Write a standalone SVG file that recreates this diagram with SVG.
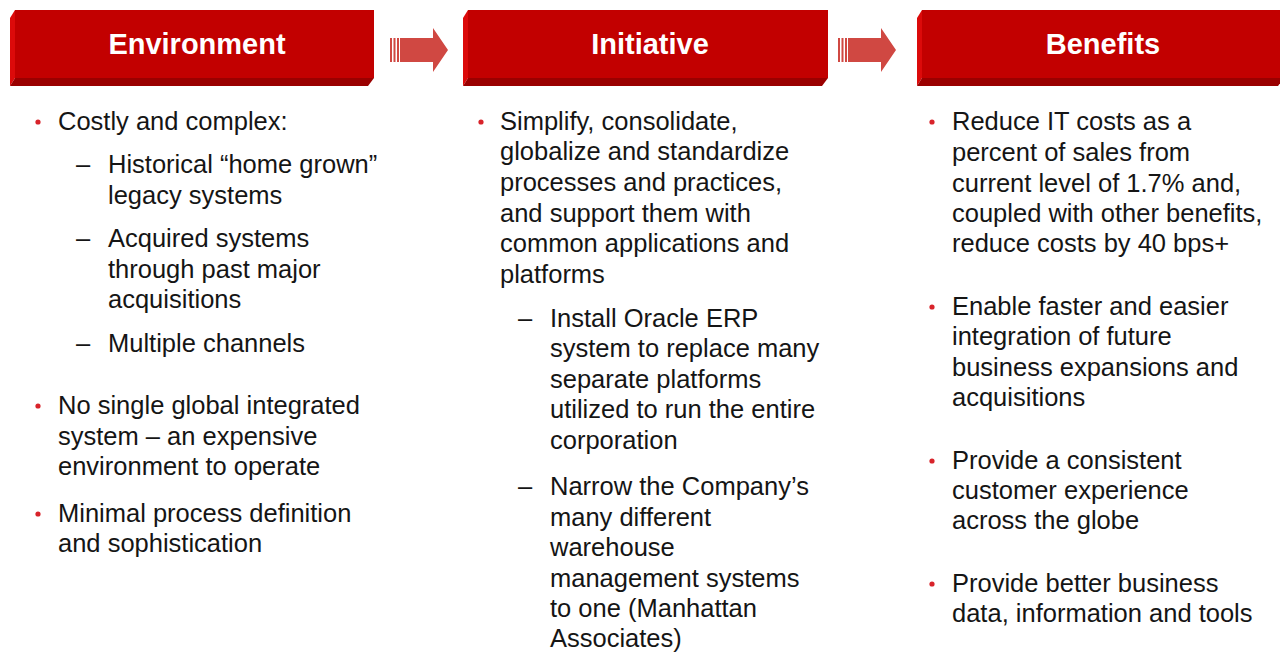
<svg xmlns="http://www.w3.org/2000/svg" width="1280" height="652" viewBox="0 0 1280 652">
<style>
.front{fill:#c20000}
.side{fill:#dc0a0a}
.bottom{fill:#9a0000}
.hdr{font-family:"Liberation Sans",Arial,sans-serif;font-weight:bold;font-size:29px;fill:#ffffff;text-anchor:middle}
.t{font-family:"Liberation Sans",Arial,sans-serif;font-size:25.5px;fill:#151515}
.dot{fill:#d8232a}
.arr{fill:#d04842}
</style>
<rect width="1280" height="652" fill="#ffffff"/>

<g id="environment">
  <polygon class="side" points="15,10 15,78 10,86 10,18"/>
  <polygon class="bottom" points="15,78 374,78 368,86 10,86"/>
  <rect class="front" x="15" y="10" width="359" height="68"/>
  <text class="hdr" x="197" y="54">Environment</text>
  <circle class="dot" cx="38" cy="122" r="2.6"/>
  <text class="t" x="58" y="130">Costly and complex:</text>
  <text class="t" x="76" y="173">–</text>
  <text class="t" x="108" y="173">Historical “home grown”</text>
  <text class="t" x="108" y="204">legacy systems</text>
  <text class="t" x="76" y="247">–</text>
  <text class="t" x="108" y="247">Acquired systems</text>
  <text class="t" x="108" y="278">through past major</text>
  <text class="t" x="108" y="308">acquisitions</text>
  <text class="t" x="76" y="352">–</text>
  <text class="t" x="108" y="352">Multiple channels</text>
  <circle class="dot" cx="38" cy="406" r="2.6"/>
  <text class="t" x="58" y="414">No single global integrated</text>
  <text class="t" x="58" y="445">system – an expensive</text>
  <text class="t" x="58" y="475">environment to operate</text>
  <circle class="dot" cx="38" cy="514" r="2.6"/>
  <text class="t" x="58" y="522">Minimal process definition</text>
  <text class="t" x="58" y="552">and sophistication</text>
</g>

<g id="initiative">
  <polygon class="side" points="468,10 468,78 463,86 463,18"/>
  <polygon class="bottom" points="468,78 828,78 822,86 463,86"/>
  <rect class="front" x="468" y="10" width="360" height="68"/>
  <text class="hdr" x="650" y="54">Initiative</text>
  <circle class="dot" cx="481" cy="122" r="2.6"/>
  <text class="t" x="500" y="130">Simplify, consolidate,</text>
  <text class="t" x="500" y="160">globalize and standardize</text>
  <text class="t" x="500" y="191">processes and practices,</text>
  <text class="t" x="500" y="222">and support them with</text>
  <text class="t" x="500" y="252">common applications and</text>
  <text class="t" x="500" y="283">platforms</text>
  <text class="t" x="518" y="327">–</text>
  <text class="t" x="550" y="327">Install Oracle ERP</text>
  <text class="t" x="550" y="357">system to replace many</text>
  <text class="t" x="550" y="388">separate platforms</text>
  <text class="t" x="550" y="418">utilized to run the entire</text>
  <text class="t" x="550" y="449">corporation</text>
  <text class="t" x="518" y="495">–</text>
  <text class="t" x="550" y="495">Narrow the Company’s</text>
  <text class="t" x="550" y="526">many different</text>
  <text class="t" x="550" y="556">warehouse</text>
  <text class="t" x="550" y="587">management systems</text>
  <text class="t" x="550" y="617">to one (Manhattan</text>
  <text class="t" x="550" y="647">Associates)</text>
</g>

<g id="benefits">
  <polygon class="side" points="922,10 922,78 917,86 917,18"/>
  <polygon class="bottom" points="922,78 1284,78 1278,86 917,86"/>
  <rect class="front" x="922" y="10" width="362" height="68"/>
  <text class="hdr" x="1103" y="54">Benefits</text>
  <circle class="dot" cx="932" cy="122" r="2.6"/>
  <text class="t" x="952" y="130">Reduce IT costs as a</text>
  <text class="t" x="952" y="161">percent of sales from</text>
  <text class="t" x="952" y="192">current level of 1.7% and,</text>
  <text class="t" x="952" y="222">coupled with other benefits,</text>
  <text class="t" x="952" y="252">reduce costs by 40 bps+</text>
  <circle class="dot" cx="932" cy="307" r="2.6"/>
  <text class="t" x="952" y="315">Enable faster and easier</text>
  <text class="t" x="952" y="345">integration of future</text>
  <text class="t" x="952" y="376">business expansions and</text>
  <text class="t" x="952" y="406">acquisitions</text>
  <circle class="dot" cx="932" cy="461" r="2.6"/>
  <text class="t" x="952" y="469">Provide a consistent</text>
  <text class="t" x="952" y="499">customer experience</text>
  <text class="t" x="952" y="529">across the globe</text>
  <circle class="dot" cx="932" cy="584" r="2.6"/>
  <text class="t" x="952" y="592">Provide better business</text>
  <text class="t" x="952" y="622">data, information and tools</text>
</g>

<g id="connectors">
  <g id="arrow-env-init">
    <rect class="arr" x="390" y="38" width="2" height="24"/>
    <rect class="arr" x="393.5" y="38" width="2" height="24"/>
    <rect class="arr" x="397" y="38" width="2" height="24"/>
    <polygon class="arr" points="400,38 433,38 433,28 448,50 433,72 433,62 400,62"/>
  </g>
  <g id="arrow-init-bene">
    <rect class="arr" x="838" y="38" width="2" height="24"/>
    <rect class="arr" x="841.5" y="38" width="2" height="24"/>
    <rect class="arr" x="845" y="38" width="2" height="24"/>
    <polygon class="arr" points="848,38 881,38 881,28 896,50 881,72 881,62 848,62"/>
  </g>
</g>
</svg>
